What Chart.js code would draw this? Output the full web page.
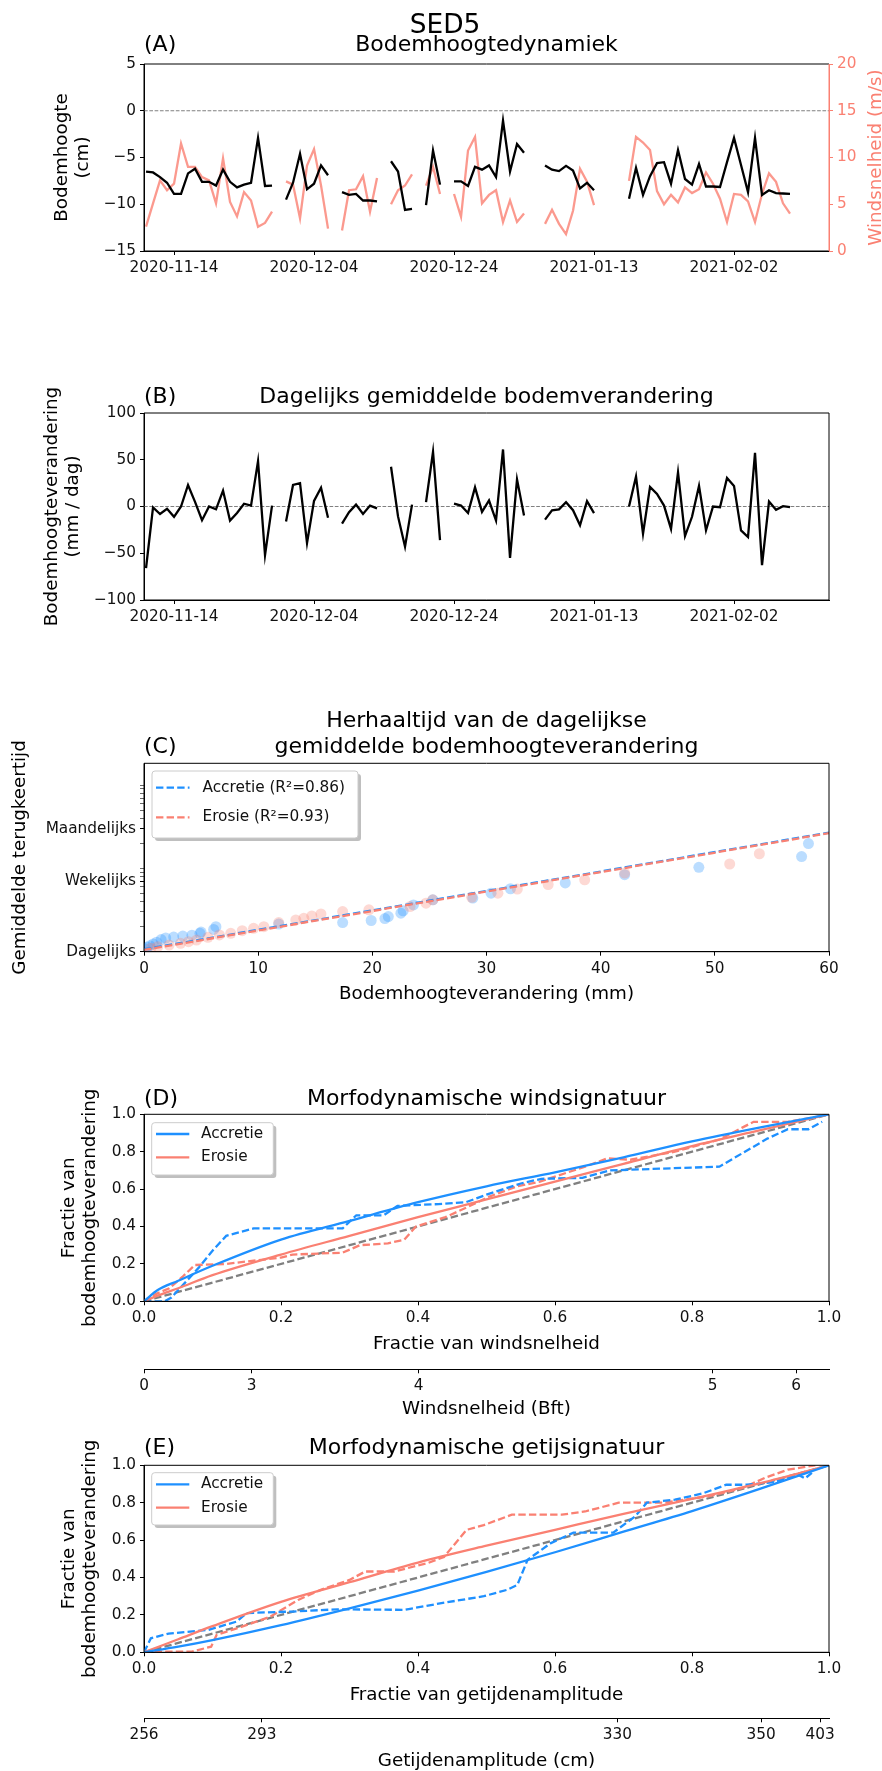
<!DOCTYPE html>
<html>
<head>
<meta charset="utf-8">
<script src="https://cdn.jsdelivr.net/npm/chart.js@4.4.1/dist/chart.umd.min.js"></script>
<style>
  body { margin: 0; background: #fff; width: 882px; height: 1771px; position: relative; overflow: hidden; }
  canvas { position: absolute; left: 0; }
</style>
</head>
<body>
<canvas id="cA" width="882" height="300" style="top:0px"></canvas>
<canvas id="cB" width="882" height="360" style="top:300px"></canvas>
<canvas id="cC" width="882" height="350" style="top:660px"></canvas>
<canvas id="cD" width="882" height="410" style="top:1010px"></canvas>
<canvas id="cE" width="882" height="351" style="top:1420px"></canvas>
<script>
// ---- data (A, B): days since 2020-11-14 ----
const days = [-4,-3,-2,-1,0,1,2,3,4,5,6,7,8,9,10,11,12,13,14,15,16,17,18,19,20,21,22,23,24,25,
  26,27,28,29,30,31,32,33,34,35,36,37,38,39,40,41,42,43,44,45,46,47,48,49,50,51,52,53,54,55,
  56,57,58,59,60,61,62,63,64,65,66,67,68,69,70,71,72,73,74,75,76,77,78,79,80,81,82,83,84,85,86,87,88];
const dateTickDays = [0, 20, 40, 60, 80];
const dateTickLabels = ['2020-11-14', '2020-12-04', '2020-12-24', '2021-01-13', '2021-02-02'];

// bodemhoogte (cm)
const bedLevel = [-6.5,-6.6,-7.1,-7.7,-8.9,-8.9,-6.7,-6.2,-7.6,-7.6,
  -8.0,-6.3,-7.6,-8.2,-7.9,-7.7,-2.9,-8.05,-8.0,null,
  -9.5,-7.7,-4.6,-8.4,-7.8,-5.85,-6.9,null,-8.7,-9.0,
  -8.9,-9.6,-9.6,-9.7,null,-5.4,-6.5,-10.6,-10.5,null,
  -10.1,-4.25,-7.9,null,-7.55,-7.55,-8.05,-6.0,-6.3,-5.85,
  -7.1,-1.05,-6.5,-3.55,-4.5,null,null,-5.85,-6.3,-6.45,
  -5.9,-6.4,-8.3,-7.7,-8.5,null,null,null,null,-9.4,
  -6.1,-9.0,-7.0,-5.6,-5.5,-7.8,-4.2,-7.3,-7.9,-5.7,
  -8.1,-8.1,-8.15,-5.5,-2.9,-5.8,-8.7,-2.9,-9.0,-8.5,
  -8.8,-8.85,-8.9];
// windsnelheid (m/s)
const windSpeed = [2.6,5.1,7.55,6.5,7.2,11.5,9.0,9.0,7.9,7.55,
  5.1,9.9,5.25,3.7,6.3,5.4,2.6,3.0,4.2,null,
  7.45,7.1,3.5,9.15,10.9,7.0,2.4,null,2.2,6.5,
  6.6,8.0,4.2,7.8,null,5.0,6.5,7.0,8.2,null,
  7.0,9.0,6.1,null,6.1,3.65,10.75,12.2,5.1,6.0,
  6.5,3.1,5.4,3.1,4.0,null,null,2.9,4.4,2.9,
  1.8,4.3,8.8,7.4,4.9,null,null,null,null,7.5,
  12.2,11.6,10.8,6.4,5.0,6.0,5.2,6.8,6.2,6.6,
  8.4,7.2,5.6,3.1,6.1,6.0,5.3,3.1,6.1,8.3,
  7.4,5.1,4.0];
// dagelijks gemiddelde bodemverandering (mm / dag)
const dailyChange = [-66,-1,-8,-2.5,-11,0,23,5,-14.6,0,
  -3,17,-15,-7,3,1,48.5,-52,1,null,
  -16,23,25,-39,6,20,-12,null,-18.4,-6,
  2,-8,1,-2,null,42.5,-10.6,-43,2,null,
  4.6,58.5,-36,null,3,1,-7,20.5,-5.7,6.4,
  -15,61,-55,29,-9.6,null,null,-14,-4,-3,
  4.6,-4,-20,5.7,-7,null,null,null,null,0,
  32,-29,21,13.5,1,-24,36.5,-31.6,-11,22,
  -25.5,0,-0.7,30.5,22,-25.5,-32.6,57.4,-62.8,5.3,
  -3.5,0.4,-0.7];

// ---- data (C): herhaaltijd ----
const accX = [0.1,0.3,0.5,0.8,1.1,1.5,1.9,2.6,3.4,4.2,4.9,5.0,6.1,6.3,11.8,17.4,19.9,21.1,21.4,22.5,22.7,23.6,25.3,28.8,30.4,32.1,36.9,42.1,48.6,57.6,58.2];
const accT = [1.08,1.13,1.18,1.24,1.3,1.4,1.46,1.5,1.54,1.58,1.66,1.72,1.85,2.0,2.15,2.24,2.37,2.5,2.64,2.9,3.1,3.65,4.2,4.4,5.05,5.7,6.7,8.4,10.3,13.9,19.9];
const eroX = [0.6,1.2,2.2,3.2,3.9,4.6,5.6,6.6,7.6,8.6,9.6,10.5,11.8,13.3,14.0,14.7,15.5,17.4,19.7,23.3,24.7,25.3,28.7,31.0,32.7,35.4,38.6,42.1,51.3,53.9];
const eroT = [1.1,1.15,1.2,1.26,1.32,1.38,1.49,1.59,1.66,1.79,1.91,2.0,2.24,2.41,2.52,2.69,2.84,3.03,3.18,3.48,3.83,4.2,4.5,5.05,5.65,6.4,7.3,8.8,11.3,15.0];
const fitX = [0, 60];
const accFitT = [1.07, 26.9];
const eroFitT = [1.05, 26.5];
const returnTicks = [1,2,3,4,5,6,7,8,9,10,20,30,40,50,60,70,80,90,100];
const returnTickValues = [1, 7, 30];
const returnTickLabels = ['Dagelijks', 'Wekelijks', 'Maandelijks'];

// ---- data (D): windsignatuur ----
const windFitX = [0,0.02,0.05,0.1,0.2,0.3,0.4,0.5,0.6,0.7,0.8,0.9,1.0];
const windAccFit = [0,0.06,0.11,0.19,0.33,0.43,0.53,0.615,0.69,0.77,0.855,0.93,1.0];
const windEroFit = [0,0.03,0.07,0.14,0.25,0.35,0.45,0.545,0.64,0.735,0.83,0.915,1.0];
const windAccEmpX = [0,0.03,0.04,0.06,0.08,0.1,0.12,0.16,0.29,0.31,0.35,0.37,0.43,0.47,0.5,0.55,0.58,0.64,0.68,0.84,0.91,0.94,0.97,0.99];
const windAccEmpY = [0,0,0.02,0.1,0.18,0.27,0.35,0.39,0.39,0.46,0.46,0.51,0.52,0.53,0.57,0.63,0.655,0.66,0.7,0.72,0.87,0.92,0.92,0.96];
const windEroEmpX = [0,0.018,0.037,0.056,0.074,0.12,0.2,0.217,0.29,0.315,0.356,0.38,0.397,0.44,0.47,0.504,0.545,0.578,0.644,0.677,0.71,0.775,0.84,0.874,0.89,0.94,0.972,1.0];
const windEroEmpY = [0,0.04,0.07,0.13,0.194,0.2,0.234,0.25,0.26,0.3,0.31,0.33,0.4,0.45,0.5,0.56,0.615,0.64,0.72,0.765,0.757,0.8,0.865,0.93,0.96,0.96,0.98,1.0];
const bftTickPos = [0, 0.157, 0.401, 0.83, 0.952];
const bftTickLabels = ['0', '3', '4', '5', '6'];

// ---- data (E): getijsignatuur ----
const tideFitX = [0,0.05,0.1,0.2,0.3,0.4,0.5,0.6,0.7,0.8,0.9,1.0];
const tideAccFit = [0,0.03,0.065,0.145,0.235,0.33,0.43,0.535,0.645,0.755,0.875,1.0];
const tideEroFit = [0,0.07,0.14,0.27,0.375,0.48,0.57,0.655,0.74,0.82,0.905,1.0];
const tideAccEmpX = [0,0.01,0.036,0.094,0.135,0.15,0.217,0.282,0.38,0.43,0.496,0.53,0.545,0.56,0.594,0.627,0.685,0.717,0.734,0.775,0.816,0.85,0.88,0.92,0.955,0.965,0.975];
const tideAccEmpY = [0,0.075,0.1,0.12,0.164,0.21,0.218,0.23,0.227,0.26,0.3,0.334,0.36,0.495,0.584,0.64,0.64,0.727,0.8,0.816,0.85,0.896,0.896,0.91,0.95,0.93,0.96];
const tideEroEmpX = [0,0.036,0.07,0.098,0.106,0.143,0.184,0.225,0.258,0.3,0.323,0.365,0.414,0.438,0.471,0.496,0.537,0.61,0.644,0.693,0.759,0.824,0.874,0.906,0.94,0.98];
const tideEroEmpY = [0,0.004,0.004,0.03,0.093,0.137,0.19,0.28,0.334,0.387,0.432,0.432,0.477,0.51,0.655,0.68,0.736,0.736,0.753,0.8,0.8,0.834,0.879,0.932,0.977,1.0];
const tideTickPos = [0, 0.172, 0.691, 0.901, 0.987];
const tideTickLabels = ['256', '293', '330', '350', '403'];

const diagX = [0, 1];
const diagY = [0, 1];

// ---- styling ----
const FONT = '"DejaVu Sans", sans-serif';
const BLUE = '#1e90ff', SALMON = '#fa8072', GRAY = '#808080';
const TICK = 15.3, LABEL = 18.3, TITLE = 22;
const LW = 2.3;

const xy = (xs, ys) => xs.map((x, i) => ({x: x, y: ys[i]}));
const minus = v => (v < 0 ? '\u2212' + Math.abs(v) : String(v));

function ax(o) {
  const c = o.color || '#000';
  const s = {
    type: o.type || 'linear',
    position: o.position,
    min: o.min, max: o.max,
    grid: {drawOnChartArea: false, drawTicks: true, tickLength: 4, color: c, tickWidth: 1},
    border: {display: true, color: c, width: 1},
    ticks: {font: {family: FONT, size: TICK}, color: o.color || '#111', padding: 4,
            maxRotation: 0, autoSkip: false},
    afterBuildTicks: s => { s.ticks = o.values.map(v => ({value: v})); }
  };
  if (o.axis) s.axis = o.axis;
  if (o.weight !== undefined) s.weight = o.weight;
  if (o.cb) s.ticks.callback = o.cb;
  if (o.width) s.afterFit = sc => { sc.width = o.width; };
  if (o.height) s.afterFit = sc => { sc.height = o.height; };
  if (o.tickWidth) s.grid.tickWidth = o.tickWidth;
  return s;
}

function roundRect(ctx, x, y, w, h, r) {
  ctx.beginPath();
  ctx.moveTo(x + r, y);
  ctx.arcTo(x + w, y, x + w, y + h, r);
  ctx.arcTo(x + w, y + h, x, y + h, r);
  ctx.arcTo(x, y + h, x, y, r);
  ctx.arcTo(x, y, x + w, y, r);
  ctx.closePath();
}

function drawLegend(ctx, L, top) {
  const y = L.y - top;
  ctx.fillStyle = 'rgba(128,128,128,0.5)';
  roundRect(ctx, L.x + 3, y + 3, L.w, L.h, 3); ctx.fill();
  ctx.fillStyle = '#fff';
  roundRect(ctx, L.x, y, L.w, L.h, 3); ctx.fill();
  ctx.strokeStyle = '#cccccc'; ctx.lineWidth = 1; ctx.stroke();
  ctx.font = TICK + 'px ' + FONT;
  ctx.textAlign = 'left'; ctx.textBaseline = 'middle';
  L.rows.forEach(r => {
    const ry = r.y - top;
    ctx.strokeStyle = r.color; ctx.lineWidth = LW;
    ctx.setLineDash(L.dash ? [7.4, 3.2] : []);
    ctx.beginPath(); ctx.moveTo(L.x0, ry); ctx.lineTo(L.x1, ry); ctx.stroke();
    ctx.setLineDash([]);
    ctx.fillStyle = '#111';
    ctx.fillText(r.label, L.tx, ry);
  });
}

const decor = {
  id: 'decor',
  beforeDatasetsDraw(chart, args, o) {
    if (!o.zero) return;
    const {ctx, chartArea: a} = chart;
    const y = chart.scales.y.getPixelForValue(0);
    ctx.save();
    ctx.strokeStyle = GRAY; ctx.lineWidth = 1.1; ctx.setLineDash([3.7, 1.6]);
    ctx.beginPath(); ctx.moveTo(a.left, y); ctx.lineTo(a.right, y); ctx.stroke();
    ctx.restore();
  },
  afterDraw(chart, args, o) {
    const {ctx, chartArea: a} = chart;
    ctx.save();
    ctx.lineWidth = 1; ctx.strokeStyle = '#000';
    ctx.beginPath();
    ctx.moveTo(a.right, a.top); ctx.lineTo(a.left, a.top);
    ctx.lineTo(a.left, a.bottom); ctx.lineTo(a.right, a.bottom);
    if (!o.rightSpine) ctx.lineTo(a.right, a.top);
    ctx.stroke();
    if (o.rightSpine) {
      ctx.strokeStyle = o.rightSpine;
      ctx.beginPath(); ctx.moveTo(a.right, a.top); ctx.lineTo(a.right, a.bottom); ctx.stroke();
    }
    if (o.legend) drawLegend(ctx, o.legend, o.top);
    (o.texts || []).forEach(t => {
      ctx.font = t.size + 'px ' + FONT;
      ctx.fillStyle = t.color || '#000';
      ctx.textAlign = t.align || 'center';
      ctx.textBaseline = 'alphabetic';
      if (t.rot) {
        ctx.save();
        ctx.translate(t.x, t.y - o.top);
        ctx.rotate(-Math.PI / 2);
        ctx.fillText(t.t, 0, 0);
        ctx.restore();
      } else {
        ctx.fillText(t.t, t.x, t.y - o.top);
      }
    });
    ctx.restore();
  }
};
Chart.register(decor);

function baseOptions(pad, decorOpts, scales) {
  return {
    responsive: false, animation: false, devicePixelRatio: 1,
    layout: {padding: pad},
    plugins: {legend: {display: false}, tooltip: {enabled: false}, decor: decorOpts},
    scales: scales
  };
}

const dateCb = v => { const i = dateTickDays.indexOf(v); return i < 0 ? '' : dateTickLabels[i]; };
const frac = v => v.toFixed(1);
const fracTicks = [0, 0.2, 0.4, 0.6, 0.8, 1.0];

// ---- (A) Bodemhoogtedynamiek ----
new Chart(document.getElementById('cA'), {
  type: 'line',
  data: {datasets: [
    {data: xy(days, bedLevel), borderColor: '#000', borderWidth: LW, pointRadius: 0, yAxisID: 'y', order: 0},
    {data: xy(days, windSpeed), borderColor: 'rgba(250,128,114,0.8)', borderWidth: LW, pointRadius: 0, yAxisID: 'y2', order: 1}
  ]},
  options: baseOptions({top: 64, right: 0, left: 0, bottom: 0}, {
    top: 0, zero: true, rightSpine: SALMON,
    texts: [
      {t: 'SED5', x: 445, y: 32.6, size: 26.4},
      {t: '(A)', x: 144, y: 51, size: TITLE, align: 'left'},
      {t: 'Bodemhoogtedynamiek', x: 486.5, y: 51, size: TITLE},
      {t: 'Bodemhoogte', x: 67, y: 157.5, size: LABEL, rot: true},
      {t: '(cm)', x: 88, y: 157.5, size: LABEL, rot: true},
      {t: 'Windsnelheid (m/s)', x: 880.6, y: 157.5, size: LABEL, rot: true, color: SALMON}
    ]
  }, {
    x: ax({position: 'bottom', min: -4.29, max: 93.57, values: dateTickDays, cb: dateCb, height: 49}),
    y: ax({position: 'left', min: -15, max: 5, values: [-15, -10, -5, 0, 5], cb: minus, width: 144}),
    y2: ax({axis: 'y', position: 'right', min: 0, max: 20, values: [0, 5, 10, 15, 20], width: 53, color: SALMON})
  })
});

// ---- (B) Dagelijks gemiddelde bodemverandering ----
new Chart(document.getElementById('cB'), {
  type: 'line',
  data: {datasets: [
    {data: xy(days, dailyChange), borderColor: '#000', borderWidth: LW, pointRadius: 0}
  ]},
  options: baseOptions({top: 113, right: 53, left: 0, bottom: 0}, {
    top: 300, zero: true,
    texts: [
      {t: '(B)', x: 144, y: 403.4, size: TITLE, align: 'left'},
      {t: 'Dagelijks gemiddelde bodemverandering', x: 486.5, y: 403.4, size: TITLE},
      {t: 'Bodemhoogteverandering', x: 57, y: 506.5, size: LABEL, rot: true},
      {t: '(mm / dag)', x: 78, y: 506.5, size: LABEL, rot: true}
    ]
  }, {
    x: ax({position: 'bottom', min: -4.29, max: 93.57, values: dateTickDays, cb: dateCb, height: 60}),
    y: ax({position: 'left', min: -100, max: 100, values: [-100, -50, 0, 50, 100], cb: minus, width: 144})
  })
});

// ---- (C) Herhaaltijd ----
new Chart(document.getElementById('cC'), {
  type: 'scatter',
  data: {datasets: [
    {data: xy(fitX, accFitT), showLine: true, borderColor: BLUE, borderWidth: LW, borderDash: [7.4, 3.2], pointRadius: 0, order: 1},
    {data: xy(fitX, eroFitT), showLine: true, borderColor: SALMON, borderWidth: LW, borderDash: [7.4, 3.2], pointRadius: 0, order: 0},
    {data: xy(accX, accT), pointRadius: 5.5, borderWidth: 0, backgroundColor: 'rgba(30,144,255,0.3)', order: 3},
    {data: xy(eroX, eroT), pointRadius: 5.5, borderWidth: 0, backgroundColor: 'rgba(250,128,114,0.3)', order: 2}
  ]},
  options: baseOptions({top: 103.3, right: 53, left: 0, bottom: 0}, {
    top: 660,
    legend: {x: 152, y: 771, w: 206, h: 67, x0: 156, x1: 189.5, tx: 202.5, dash: true,
      rows: [{label: 'Accretie (R\u00b2=0.86)', color: BLUE, y: 787.7},
             {label: 'Erosie (R\u00b2=0.93)', color: SALMON, y: 817.3}]},
    texts: [
      {t: 'Herhaaltijd van de dagelijkse', x: 486.5, y: 726.7, size: TITLE},
      {t: 'gemiddelde bodemhoogteverandering', x: 486.5, y: 753, size: TITLE},
      {t: '(C)', x: 144, y: 753, size: TITLE, align: 'left'},
      {t: 'Gemiddelde terugkeertijd', x: 25, y: 857.5, size: LABEL, rot: true},
      {t: 'Bodemhoogteverandering (mm)', x: 486.5, y: 998.9, size: LABEL}
    ]
  }, {
    x: ax({position: 'bottom', min: 0, max: 60, values: [0, 10, 20, 30, 40, 50, 60], height: 58.3}),
    y: ax({type: 'logarithmic', position: 'left', min: 1, max: 183, values: returnTicks, width: 144,
      cb: v => { const i = returnTickValues.indexOf(v); return i < 0 ? '' : returnTickLabels[i]; },
      tickWidth: c => (returnTickValues.indexOf(c.tick ? c.tick.value : -1) >= 0 ? 1 : 0.6)})
  })
});

// ---- (D) Morfodynamische windsignatuur ----
new Chart(document.getElementById('cD'), {
  type: 'scatter',
  data: {datasets: [
    {data: xy(windFitX, windAccFit), showLine: true, borderColor: BLUE, borderWidth: LW, pointRadius: 0, cubicInterpolationMode: 'monotone', order: 0},
    {data: xy(windFitX, windEroFit), showLine: true, borderColor: SALMON, borderWidth: LW, pointRadius: 0, cubicInterpolationMode: 'monotone', order: 1},
    {data: xy(windAccEmpX, windAccEmpY), showLine: true, borderColor: BLUE, borderWidth: LW, borderDash: [7.4, 3.2], pointRadius: 0, order: 2},
    {data: xy(windEroEmpX, windEroEmpY), showLine: true, borderColor: SALMON, borderWidth: LW, borderDash: [7.4, 3.2], pointRadius: 0, order: 3},
    {data: xy(diagX, diagY), showLine: true, borderColor: GRAY, borderWidth: LW, borderDash: [7.4, 3.2], pointRadius: 0, order: 4}
  ]},
  options: baseOptions({top: 104.3, right: 53, left: 0, bottom: 0}, {
    top: 1010,
    legend: {x: 151.7, y: 1122.7, w: 121.6, h: 52.3, x0: 156, x1: 189.3, tx: 201,
      rows: [{label: 'Accretie', color: BLUE, y: 1134}, {label: 'Erosie', color: SALMON, y: 1157.3}]},
    texts: [
      {t: '(D)', x: 144, y: 1105, size: TITLE, align: 'left'},
      {t: 'Morfodynamische windsignatuur', x: 486.5, y: 1105, size: TITLE},
      {t: 'Fractie van', x: 74, y: 1207.8, size: LABEL, rot: true},
      {t: 'bodemhoogteverandering', x: 95, y: 1207.8, size: LABEL, rot: true},
      {t: 'Fractie van windsnelheid', x: 486.5, y: 1348.9, size: LABEL},
      {t: 'Windsnelheid (Bft)', x: 486.5, y: 1413.9, size: LABEL}
    ]
  }, {
    x: ax({position: 'bottom', min: 0, max: 1, values: fracTicks, cb: frac, height: 68, weight: 0}),
    x2: ax({axis: 'x', position: 'bottom', min: 0, max: 1, values: bftTickPos, height: 50.7, weight: 1,
      cb: v => { const i = bftTickPos.indexOf(v); return i < 0 ? '' : bftTickLabels[i]; }}),
    y: ax({position: 'left', min: 0, max: 1, values: fracTicks, cb: frac, width: 144})
  })
});

// ---- (E) Morfodynamische getijsignatuur ----
new Chart(document.getElementById('cE'), {
  type: 'scatter',
  data: {datasets: [
    {data: xy(tideFitX, tideAccFit), showLine: true, borderColor: BLUE, borderWidth: LW, pointRadius: 0, cubicInterpolationMode: 'monotone', order: 0},
    {data: xy(tideFitX, tideEroFit), showLine: true, borderColor: SALMON, borderWidth: LW, pointRadius: 0, cubicInterpolationMode: 'monotone', order: 1},
    {data: xy(tideAccEmpX, tideAccEmpY), showLine: true, borderColor: BLUE, borderWidth: LW, borderDash: [7.4, 3.2], pointRadius: 0, order: 2},
    {data: xy(tideEroEmpX, tideEroEmpY), showLine: true, borderColor: SALMON, borderWidth: LW, borderDash: [7.4, 3.2], pointRadius: 0, order: 3},
    {data: xy(diagX, diagY), showLine: true, borderColor: GRAY, borderWidth: LW, borderDash: [7.4, 3.2], pointRadius: 0, order: 4}
  ]},
  options: baseOptions({top: 45.3, right: 53, left: 0, bottom: 0}, {
    top: 1420,
    legend: {x: 151.7, y: 1472.7, w: 121.6, h: 52.3, x0: 156, x1: 189.3, tx: 201,
      rows: [{label: 'Accretie', color: BLUE, y: 1484.3}, {label: 'Erosie', color: SALMON, y: 1507.7}]},
    texts: [
      {t: '(E)', x: 144, y: 1454.4, size: TITLE, align: 'left'},
      {t: 'Morfodynamische getijsignatuur', x: 486.5, y: 1454.4, size: TITLE},
      {t: 'Fractie van', x: 74, y: 1558.8, size: LABEL, rot: true},
      {t: 'bodemhoogteverandering', x: 95, y: 1558.8, size: LABEL, rot: true},
      {t: 'Fractie van getijdenamplitude', x: 486.5, y: 1700, size: LABEL},
      {t: 'Getijdenamplitude (cm)', x: 486.5, y: 1765.6, size: LABEL}
    ]
  }, {
    x: ax({position: 'bottom', min: 0, max: 1, values: fracTicks, cb: frac, height: 66, weight: 0}),
    x2: ax({axis: 'x', position: 'bottom', min: 0, max: 1, values: tideTickPos, height: 52.7, weight: 1,
      cb: v => { const i = tideTickPos.indexOf(v); return i < 0 ? '' : tideTickLabels[i]; }}),
    y: ax({position: 'left', min: 0, max: 1, values: fracTicks, cb: frac, width: 144})
  })
});
</script>
</body>
</html>
